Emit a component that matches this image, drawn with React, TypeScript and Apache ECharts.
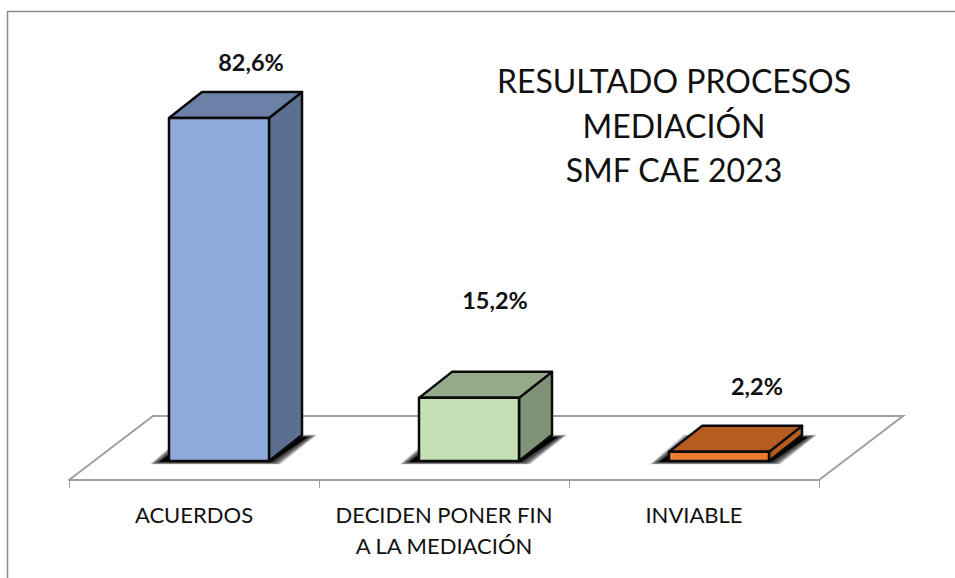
import React, { useEffect, useRef } from "react";
import * as echarts from "echarts";

const categories = ["ACUERDOS", "DECIDEN PONER FIN\nA LA MEDIACIÓN", "INVIABLE"];
const values = [82.6, 15.2, 2.2];
const valueLabels = ["82,6%", "15,2%", "2,2%"];
const titleText = "RESULTADO PROCESOS\nMEDIACIÓN\nSMF CAE 2023";

const frontColors = ["#8FAADC", "#C5E0B4", "#ED7D31"];
const topColors = ["#6C81A7", "#95AA88", "#B65C20"];
const sideColors = ["#5D6F90", "#7F9176", "#B65C20"];
const labelShifts = [[32, -56], [26, -98], [38, -66]];
const shadowSpread = [9, 7.5, 6, 4.5, 3, 1.5, 0];

const FONT = "Lato, 'Open Sans', sans-serif";
const DEPTH_X = 33;
const DEPTH_Y = 26;
const BAR_W = 100;
const BAR_SHIFT = 25;

export default function App() {
  const ref = useRef<HTMLDivElement>(null);
  useEffect(() => {
    const chart = echarts.init(ref.current!, null, { renderer: "svg" });
    chart.setOption({
      animation: false,
      backgroundColor: "#ffffff",
      grid: { left: 69, width: 750, top: 45.7, height: 415.3 },
      xAxis: {
        type: "category",
        data: categories,
        offset: 19,
        axisLine: { show: true, onZero: false, lineStyle: { color: "#A0A0A0", width: 2 } },
        axisTick: { show: true, length: 8, alignWithLabel: false, lineStyle: { color: "#A0A0A0", width: 1 } },
        axisLabel: { color: "#111111", fontSize: 22, fontFamily: FONT, lineHeight: 31, margin: 19, interval: 0 },
      },
      yAxis: { type: "value", min: 0, max: 100, show: false },
      graphic: [
        { type: "line", silent: true, shape: { x1: 7, y1: 11.5, x2: 955, y2: 11.5 }, style: { stroke: "#8C8C8C", lineWidth: 1.5 } },
        { type: "line", silent: true, shape: { x1: 7.5, y1: 11, x2: 7.5, y2: 578 }, style: { stroke: "#8C8C8C", lineWidth: 1.5 } },
        {
          type: "polyline", silent: true, z: -1,
          shape: { points: [[69, 480], [153, 416], [903, 416], [819, 480]] },
          style: { stroke: "#A0A0A0", lineWidth: 2, fill: "none" },
        },
        {
          type: "text", silent: true, x: 674, y: 125,
          style: {
            text: titleText, fill: "#111111", font: `32px ${FONT}`,
            align: "center", verticalAlign: "middle", lineHeight: 44.5,
          },
        },
      ],
      series: [
        {
          type: "custom",
          coordinateSystem: "cartesian2d",
          data: values.map((v, i) => [i, v]),
          clip: false,
          renderItem: (_p: any, api: any) => {
            const i = api.value(0);
            const [cx, top] = api.coord([i, api.value(1)]);
            const [, base] = api.coord([i, 0]);
            const l = cx - BAR_W / 2 + BAR_SHIFT;
            const r = l + BAR_W;
            const stroke = { stroke: "#0A0A0A", lineWidth: 2.5, lineJoin: "round" };
            const shadowLayers = shadowSpread.map((e) => ({
              type: "polygon",
              shape: {
                points: [
                  [l - 10 - e, base + 1 + e * 0.25],
                  [r + 2 + e, base + 1 + e * 0.25],
                  [r + 39 + e, base - DEPTH_Y + 2 - e * 0.25],
                  [l + 24 - e, base - DEPTH_Y + 2 - e * 0.25],
                ],
              },
              style: { fill: "#000000", opacity: e === 0 ? 1 : 0.22 },
            }));
            return {
              type: "group",
              children: [
                ...shadowLayers,
                {
                  type: "polygon",
                  shape: { points: [[r, top], [r + DEPTH_X, top - DEPTH_Y], [r + DEPTH_X, base - DEPTH_Y], [r, base]] },
                  style: { fill: sideColors[i], ...stroke },
                },
                {
                  type: "polygon",
                  shape: { points: [[l, top], [l + DEPTH_X, top - DEPTH_Y], [r + DEPTH_X, top - DEPTH_Y], [r, top]] },
                  style: { fill: topColors[i], ...stroke },
                },
                {
                  type: "rect",
                  shape: { x: l, y: top, width: BAR_W, height: base - top },
                  style: { fill: frontColors[i], ...stroke },
                },
                {
                  type: "text",
                  x: cx + BAR_SHIFT + labelShifts[i][0],
                  y: top + labelShifts[i][1],
                  style: {
                    text: valueLabels[i], fill: "#111111", font: `bold 23.5px ${FONT}`,
                    align: "center", verticalAlign: "middle",
                  },
                },
              ],
            };
          },
        },
      ],
    });
    return () => chart.dispose();
  }, []);
  return <div ref={ref} style={{ position: "fixed", left: 0, top: 0, width: 955, height: 578 }} />;
}
